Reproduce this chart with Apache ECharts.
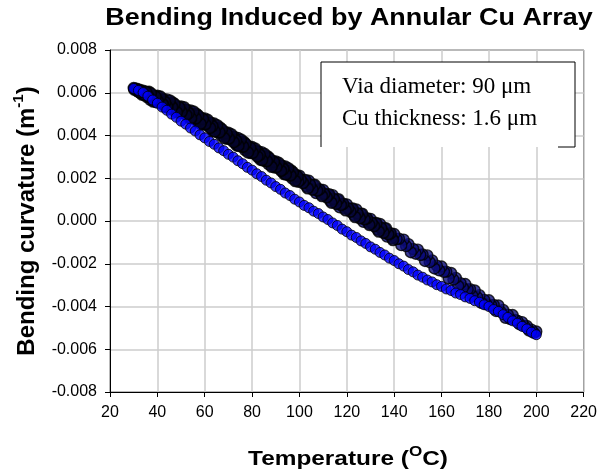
<!DOCTYPE html>
<html><head><meta charset="utf-8">
<script src="https://cdn.jsdelivr.net/npm/echarts@6/dist/echarts.min.js"></script>
<style>html,body{margin:0;padding:0;background:#fff}#c{width:600px;height:474px}</style>
</head><body><div id="c"></div>
<script>
// ---- data ----
const titleText = 'Bending Induced by Annular Cu Array';
const xName = ['Temperature (', 'O', 'C)'];
const yName = ['Bending curvature (m', '-1', ')'];
const noteLines = ['Via diameter: 90 \u03bcm', 'Cu thickness: 1.6 \u03bcm'];
const xMin = 20, xMax = 220, xStep = 20;
const yMin = -0.008, yMax = 0.008, yStep = 0.002;

// heating branch (lower, single trace)
const heatT = [30,32,34,36,38,40,42,44,46,48,50,52,54,56,58,60,62,64,66,68,70,72,74,76,78,80,82,84,86,88,90,92,94,96,98,100,102,104,106,108,110,112,114,116,118,120,122,124,126,128,130,132,134,136,138,140,142,144,146,148,150,152,154,156,158,160,162,164,166,168,170,172,174,176,178,180,182,184,186,188,190,192,194,196,198,200];
const heatK = [0.00620,0.00611,0.00601,0.00584,0.00566,0.00551,0.00533,0.00518,0.00500,0.00485,
0.00467,0.00453,0.00435,0.00421,0.00403,0.00389,0.00372,0.00359,0.00342,0.00329,
0.00312,0.00299,0.00282,0.00268,0.00251,0.00238,0.00221,0.00208,0.00191,0.00178,
0.00161,0.00148,0.00131,0.00119,0.00102,0.00089,0.00073,0.00062,0.00046,0.00035,
0.00019,0.00007,-0.00009,-0.00021,-0.00038,-0.00050,-0.00066,-0.00077,-0.00093,-0.00105,
-0.00121,-0.00132,-0.00147,-0.00159,-0.00174,-0.00185,-0.00200,-0.00211,-0.00227,-0.00238,
-0.00253,-0.00263,-0.00276,-0.00285,-0.00298,-0.00306,-0.00318,-0.00325,-0.00337,-0.00344,
-0.00355,-0.00362,-0.00373,-0.00380,-0.00392,-0.00400,-0.00414,-0.00423,-0.00438,-0.00451,
-0.00467,-0.00478,-0.00493,-0.00505,-0.00520,-0.00532];

// cooling branch (upper, dense scattered band), first pass over the whole range
const coolT = [200,199,198,197,196,195,194,193,192,191,190,189,188,187,186,185,184,183,182,181,180,179,178,177,176,175,174,173,172,171,170,169,168,167,166,165,164,163,162,161,160,159,158,157,156,155,154,153,152,151,150,149,148,147,146,145,144,143,142,141,140,139,138,137,136,135,134,133,132,131,130,129,128,127,126,125,124,123,122,121,120,119,118,117,116,115,114,113,112,111,110,109,108,107,106,105,104,103,102,101,100,99,98,97,96,95,94,93,92,91,90,89,88,87,86,85,84,83,82,81,80,79,78,77,76,75,74,73,72,71,70,69,68,67,66,65,64,63,62,61,60,59,58,57,56,55,54,53,52,51,50,49,48,47,46,45,44,43,42,41,40,39,38,37,36,35,34,33,32,31,30];
const coolK = [-0.00517,-0.00523,-0.00509,-0.00513,-0.00491,-0.00492,-0.00473,-0.00483,-0.00466,-0.00463,
-0.00440,-0.00459,-0.00438,-0.00453,-0.00416,-0.00425,-0.00395,-0.00421,-0.00393,-0.00395,
-0.00371,-0.00390,-0.00369,-0.00384,-0.00347,-0.00356,-0.00325,-0.00350,-0.00319,-0.00320,
-0.00295,-0.00313,-0.00291,-0.00304,-0.00266,-0.00274,-0.00243,-0.00268,-0.00237,-0.00238,
-0.00213,-0.00231,-0.00209,-0.00222,-0.00184,-0.00192,-0.00161,-0.00187,-0.00157,-0.00159,
-0.00134,-0.00153,-0.00131,-0.00146,-0.00108,-0.00117,-0.00087,-0.00113,-0.00083,-0.00085,
-0.00061,-0.00080,-0.00058,-0.00073,-0.00035,-0.00044,-0.00014,-0.00040,-0.00012,-0.00014,
0.00010,-0.00009,0.00012,-0.00004,0.00033,0.00024,0.00054,0.00028,0.00056,0.00054,
0.00078,0.00059,0.00079,0.00064,0.00100,0.00091,0.00121,0.00095,0.00123,0.00121,
0.00145,0.00126,0.00146,0.00131,0.00167,0.00158,0.00188,0.00162,0.00190,0.00188,
0.00212,0.00193,0.00213,0.00198,0.00234,0.00225,0.00255,0.00229,0.00257,0.00255,
0.00279,0.00260,0.00280,0.00265,0.00301,0.00292,0.00322,0.00296,0.00324,0.00322,
0.00346,0.00327,0.00347,0.00332,0.00368,0.00359,0.00389,0.00363,0.00391,0.00389,
0.00413,0.00394,0.00414,0.00399,0.00435,0.00426,0.00456,0.00430,0.00458,0.00456,
0.00480,0.00460,0.00480,0.00463,0.00499,0.00489,0.00517,0.00490,0.00517,0.00514,
0.00536,0.00515,0.00534,0.00517,0.00552,0.00541,0.00569,0.00541,0.00568,0.00564,
0.00586,0.00565,0.00584,0.00567,0.00602,0.00591,0.00610,0.00598,0.00614,0.00615,
0.00622];

// cooling, extra readings at lower temperatures (slower cooling, denser sampling)
const cool2T = [139.5,138.5,137.5,136.5,135.5,134.5,133.5,132.5,131.5,130.5,129.5,128.5,127.5,126.5,125.5,124.5,123.5,122.5,121.5,120.5,119.5,118.5,117.5,116.5,115.5,114.5,113.5,112.5,111.5,110.5,109.5,108.5,107.5,106.5,105.5,104.5,103.5,102.5,101.5,100.5,99.5,98.5,97.5,96.5,95.5,94.5,93.5,92.5,91.5,90.5,89.5,88.5,87.5,86.5,85.5,84.5,83.5,82.5,81.5,80.5,79.5,78.5,77.5,76.5,75.5,74.5,73.5,72.5,71.5,70.5,69.5,68.5,67.5,66.5,65.5,64.5,63.5,62.5,61.5,60.5,59.5,58.5,57.5,56.5,55.5,54.5,53.5,52.5,51.5,50.5,49.5,48.5,47.5,46.5,45.5,44.5,43.5,42.5,41.5,40.5,39.5,38.5,37.5,36.5,35.5,34.5,33.5,32.5,31.5,30.5];
const cool2K = [-0.00089,-0.00057,-0.00062,-0.00034,-0.00055,-0.00032,-0.00049,-0.00010,-0.00024,-0.00008,
-0.00018,0.00013,0.00008,0.00034,0.00013,0.00036,0.00019,0.00058,0.00044,0.00060,
0.00050,0.00081,0.00075,0.00102,0.00080,0.00103,0.00086,0.00125,0.00111,0.00127,
0.00117,0.00148,0.00142,0.00169,0.00147,0.00170,0.00153,0.00192,0.00178,0.00194,
0.00184,0.00215,0.00209,0.00236,0.00214,0.00237,0.00220,0.00259,0.00245,0.00261,
0.00251,0.00282,0.00276,0.00303,0.00281,0.00304,0.00287,0.00326,0.00312,0.00328,
0.00318,0.00349,0.00343,0.00370,0.00348,0.00371,0.00354,0.00393,0.00379,0.00395,
0.00385,0.00416,0.00410,0.00437,0.00415,0.00438,0.00421,0.00460,0.00446,0.00462,
0.00452,0.00482,0.00475,0.00501,0.00479,0.00500,0.00482,0.00519,0.00505,0.00519,
0.00507,0.00536,0.00529,0.00554,0.00531,0.00552,0.00533,0.00570,0.00555,0.00569,
0.00557,0.00586,0.00579,0.00604,0.00581,0.00600,0.00592,0.00614,0.00608,0.00618];

const cool3T = [99.25,98.25,97.25,96.25,95.25,94.25,93.25,92.25,91.25,90.25,89.25,88.25,87.25,86.25,85.25,84.25,83.25,82.25,81.25,80.25,79.25,78.25,77.25,76.25,75.25,74.25,73.25,72.25,71.25,70.25,69.25,68.25,67.25,66.25,65.25,64.25,63.25,62.25,61.25,60.25,59.25,58.25,57.25,56.25,55.25,54.25,53.25,52.25,51.25,50.25,49.25,48.25,47.25,46.25,45.25,44.25,43.25,42.25,41.25,40.25,39.25,38.25,37.25,36.25,35.25,34.25,33.25,32.25,31.25,30.25];
const cool3K = [0.00209,0.00187,0.00228,0.00214,0.00247,0.00218,0.00243,0.00235,0.00272,0.00252,
0.00276,0.00254,0.00295,0.00281,0.00314,0.00285,0.00310,0.00302,0.00339,0.00319,
0.00343,0.00321,0.00362,0.00348,0.00381,0.00352,0.00377,0.00369,0.00406,0.00386,
0.00410,0.00388,0.00429,0.00415,0.00448,0.00419,0.00444,0.00436,0.00473,0.00453,
0.00477,0.00455,0.00494,0.00480,0.00512,0.00481,0.00505,0.00496,0.00532,0.00510,
0.00532,0.00509,0.00548,0.00533,0.00564,0.00533,0.00556,0.00547,0.00582,0.00560,
0.00582,0.00559,0.00598,0.00583,0.00604,0.00591,0.00605,0.00603,0.00618,0.00615];

// ---- chart ----
const chart = echarts.init(document.getElementById('c'), null, {renderer: 'canvas'});
const sans = '"Liberation Sans", Arial, Helvetica, sans-serif';
const serif = '"Liberation Serif", "Times New Roman", serif';
const pairs = (xs, ys) => xs.map((t, i) => [t, ys[i]]);
// dense overlapping blue/black markers read as a dark band; the fill of the dense passes is darkened to match
const dots = (name, data, fill, bw, size) => ({type: 'scatter', name, symbol: 'circle', symbolSize: size,
  itemStyle: {color: fill, borderColor: '#000000', borderWidth: bw}, large: false, progressive: 0, data});

chart.setOption({
  animation: false,
  backgroundColor: '#ffffff',
  grid: {left: 110, right: 14, top: 50, bottom: 82, show: true, borderColor: '#000', borderWidth: 1, containLabel: false},
  xAxis: {
    type: 'value', min: xMin, max: xMax, interval: xStep,
    axisLine: {show: true, onZero: false, lineStyle: {color: '#000', width: 1}},
    axisTick: {show: true, inside: false, length: 5, lineStyle: {color: '#000'}},
    axisLabel: {color: '#000', fontSize: 16, fontFamily: sans, margin: 13},
    splitLine: {show: true, lineStyle: {color: '#cccccc', width: 1.5}}
  },
  yAxis: {
    type: 'value', min: yMin, max: yMax, interval: yStep,
    axisLine: {show: true, onZero: false, lineStyle: {color: '#000', width: 1}},
    axisTick: {show: true, inside: false, length: 5, lineStyle: {color: '#000'}},
    axisLabel: {color: '#000', fontSize: 16, fontFamily: sans, margin: 13, formatter: v => v.toFixed(3)},
    splitLine: {show: true, lineStyle: {color: '#cccccc', width: 1.5}}
  },
  series: [
    dots('cooling', pairs(coolT, coolK), '#0b0b7a', 1.4, 11),
    dots('cooling2', pairs(cool2T, cool2K), '#07073f', 1.6, 11),
    dots('cooling3', pairs(cool3T, cool3K), '#05052e', 1.6, 11),
    dots('heating', pairs(heatT, heatK), '#0000ff', 1, 10)
  ],
  graphic: [
    {type: 'text', x: 349, y: 19, scaleX: 1.17, z: 100,
     style: {text: titleText, font: 'bold 23px ' + sans, fill: '#000', textAlign: 'center', align: 'center', textVerticalAlign: 'middle', verticalAlign: 'middle'}},
    {type: 'text', x: 348, y: 457, scaleX: 1.22, z: 100,
     style: {text: '{a|' + xName[0] + '}{s|' + xName[1] + '}{a|' + xName[2] + '}', fill: '#000',
       textAlign: 'center', align: 'center', textVerticalAlign: 'middle', verticalAlign: 'middle',
       rich: {a: {font: 'bold 20px ' + sans, fill: '#000', lineHeight: 24, verticalAlign: 'bottom'},
              s: {font: 'bold 14px ' + sans, fill: '#000', lineHeight: 24, verticalAlign: 'top'}}}},
    {type: 'text', x: 25, y: 221, rotation: Math.PI / 2, z: 100,
     style: {text: '{a|' + yName[0] + '}{s|' + yName[1] + '}{a|' + yName[2] + '}', fill: '#000',
       textAlign: 'center', align: 'center', textVerticalAlign: 'middle', verticalAlign: 'middle',
       rich: {a: {font: 'bold 24px ' + sans, fill: '#000', lineHeight: 28, verticalAlign: 'bottom'},
              s: {font: 'bold 15px ' + sans, fill: '#000', lineHeight: 28, verticalAlign: 'top'}}}},
    {type: 'rect', z: 100, shape: {x: 321, y: 62, width: 254, height: 85}, style: {fill: '#fff', stroke: null}},
    {type: 'polyline', z: 101, shape: {points: [[321, 147], [321, 62], [575, 62], [575, 147], [558, 147]]},
     style: {stroke: '#000', lineWidth: 1, fill: null}},
    {type: 'text', x: 342, y: 87, z: 102,
     style: {text: noteLines[0], font: '23px ' + serif, fill: '#000', textAlign: 'left', align: 'left', textVerticalAlign: 'middle', verticalAlign: 'middle'}},
    {type: 'text', x: 342, y: 119, z: 102,
     style: {text: noteLines[1], font: '23px ' + serif, fill: '#000', textAlign: 'left', align: 'left', textVerticalAlign: 'middle', verticalAlign: 'middle'}}
  ]
});
</script></body></html>
